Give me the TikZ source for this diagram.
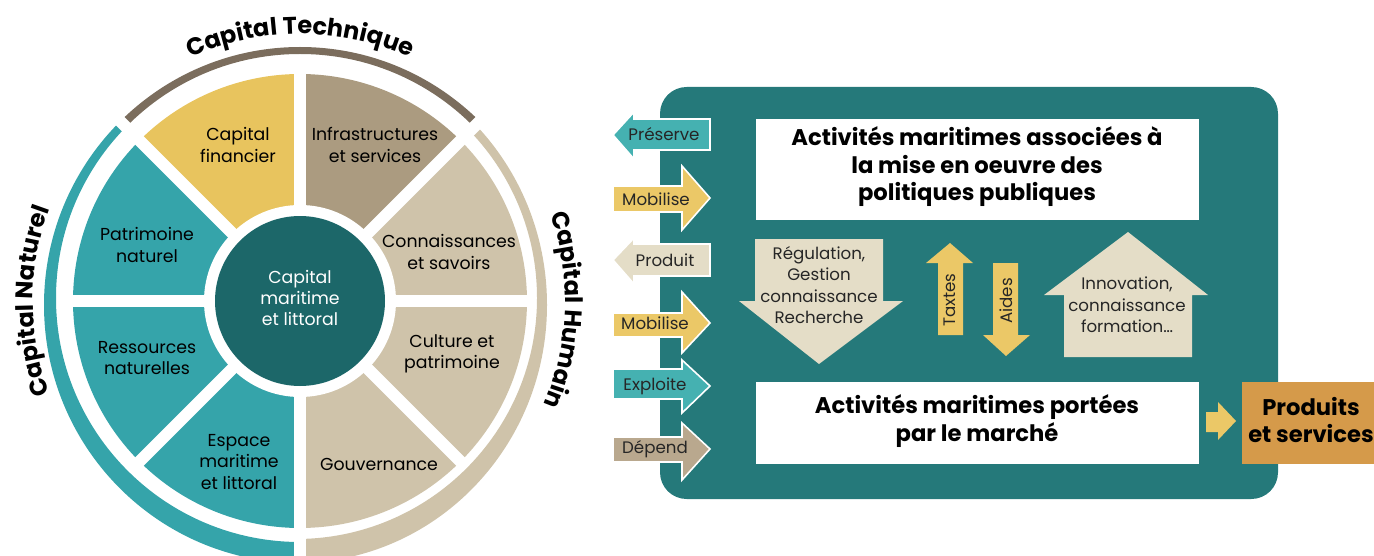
\documentclass[tikz,border=0pt]{standalone}
\usepackage{fontspec}
\setmainfont{Poppins}
\usepackage{xcolor}
\usetikzlibrary{decorations.text}

\definecolor{natteal}{RGB}{53,164,170}
\definecolor{coreteal}{RGB}{28,103,105}
\definecolor{boxteal}{RGB}{37,121,122}
\definecolor{gold}{RGB}{232,196,94}
\definecolor{infratan}{RGB}{171,155,128}
\definecolor{lighttan}{RGB}{207,195,170}
\definecolor{techbrown}{RGB}{123,109,93}
\definecolor{arrowteal}{RGB}{69,177,177}
\definecolor{palebeige}{RGB}{228,221,199}
\definecolor{arrowgold}{RGB}{235,200,103}
\definecolor{dependtan}{RGB}{185,168,142}
\definecolor{ochre}{RGB}{213,154,74}

\tikzset{
  sector/.style={align=center, inner sep=0pt, font=\fontsize{13}{16}\selectfont, text=black},
  gap/.style={white, line width=9pt},
  ringtext/.style={decorate, decoration={text along path, text align=center,
      text={|\bfseries\fontsize{18}{18}\selectfont|#1}}},
  sidearrow/.style={draw=white, line width=1.2pt},
  sidelabel/.style={inner sep=0pt, font=\fontsize{12.5}{14}\selectfont, text=black!85},
  midlabel/.style={align=center, inner sep=0pt, font=\fontsize{12.5}{16}\selectfont, text=black!85},
  activity/.style={align=center, inner sep=0pt, font=\bfseries\fontsize{17}{20.6}\selectfont},
}

\begin{document}
\begin{tikzpicture}[x=0.75pt,y=0.75pt,yscale=-1,xscale=1]
\useasboundingbox (0,0) rectangle (1374,556);

%Shape: Wheel
\begin{scope}[shift={(300,301)}, yscale=-1]
\fill[lighttan] (0,0) -- (0:227) arc[start angle=0, end angle=45, radius=227] -- cycle;
\fill[infratan] (0,0) -- (45:227) arc[start angle=45, end angle=90, radius=227] -- cycle;
\fill[gold] (0,0) -- (90:227) arc[start angle=90, end angle=135, radius=227] -- cycle;
\fill[natteal] (0,0) -- (135:227) arc[start angle=135, end angle=270, radius=227] -- cycle;
\fill[lighttan] (0,0) -- (270:227) arc[start angle=270, end angle=360, radius=227] -- cycle;
%Shape: Outer rings (thicker towards the bottom)
\begin{scope}
\clip (0,0) -- (45:300) arc[start angle=45, end angle=135, radius=300] -- cycle;
\fill[techbrown, even odd rule] (0,-4) ellipse[x radius=256, y radius=258] (0,3) circle[radius=244];
\end{scope}
\begin{scope}
\clip (0,0) -- (135:300) arc[start angle=135, end angle=270, radius=300] -- cycle;
\fill[natteal, even odd rule] (0,-4) ellipse[x radius=256, y radius=258] (0,3) circle[radius=244];
\end{scope}
\begin{scope}
\clip (0,0) -- (-90:300) arc[start angle=-90, end angle=45, radius=300] -- cycle;
\fill[lighttan, even odd rule] (-4,-4) ellipse[x radius=251, y radius=258] (-4,3) circle[radius=241];
\end{scope}
%Shape: White gaps
\foreach \a/\r in {0/232, 45/270, 90/232, 135/270, 180/232, 225/232, 270/270, 315/232}
  \draw[gap] (0,0) -- (\a:\r);
\fill[white] (0,0) circle[radius=96];
\fill[coreteal] (0,0) circle[radius=85];
% Ring labels
\path[ringtext=Capital Technique] (150:267) arc[start angle=150, end angle=30, radius=267];
\path[ringtext=Capital Naturel] (225:267) arc[start angle=225, end angle=135, radius=267];
\path[ringtext=Capital Humain] (43:265) arc[start angle=43, end angle=-47, radius=265];
\end{scope}

% Text Node
\node[sector] (financier) at (238,145) {Capital\\financier};
% Text Node
\node[sector] (infra) at (375,145) {Infrastructures\\et services};
% Text Node
\node[sector] (savoirs) at (449,252) {Connaissances\\et savoirs};
% Text Node
\node[sector] (culture) at (452,354) {Culture et\\patrimoine};
% Text Node
\node[sector] (gouv) at (379,464) {Gouvernance};
% Text Node
\node[sector] (espace) at (239,462) {Espace\\maritime\\et littoral};
% Text Node
\node[sector] (ressources) at (147,358) {Ressources\\naturelles};
% Text Node
\node[sector] (patrimoine) at (147,245) {Patrimoine\\naturel};
% Text Node
\node[sector, text=white] (core) at (300,298) {Capital\\maritime\\et littoral};

%Shape: Rounded Rectangle
\fill[boxteal, rounded corners=20pt] (660,87) rectangle (1278,499);
%Shape: Rectangle
\fill[white] (756,119) rectangle (1199,220);
%Shape: Rectangle
\fill[white] (756,382) rectangle (1199,464);
%Shape: Rectangle
\fill[ochre] (1242,382) rectangle (1374,464);

%Shape: Side arrows
\filldraw[sidearrow, fill=arrowteal] (613,135) -- (634,112) -- (634,119) -- (710,119) -- (710,150) -- (634,150) -- (634,159) -- cycle;
\filldraw[sidearrow, fill=arrowgold] (613,186) -- (682,186) -- (682,166) -- (710,198) -- (682,230) -- (682,212) -- (613,212) -- cycle;
\filldraw[sidearrow, fill=palebeige] (613,260) -- (634,238) -- (634,244) -- (710,244) -- (710,276) -- (634,276) -- (634,284) -- cycle;
\filldraw[sidearrow, fill=arrowgold] (613,313) -- (682,313) -- (682,292) -- (710,323) -- (682,353) -- (682,337) -- (613,337) -- cycle;
\filldraw[sidearrow, fill=arrowteal] (613,369) -- (682,369) -- (682,360) -- (710,386) -- (682,413) -- (682,399) -- (613,399) -- cycle;
\filldraw[sidearrow, fill=dependtan] (613,437) -- (682,437) -- (682,423) -- (710,449) -- (682,480) -- (682,462) -- (613,462) -- cycle;

% Text Node
\node[sidelabel] (preserve) at (664,134) {Préserve};
% Text Node
\node[sidelabel] (mobilise1) at (656,199) {Mobilise};
% Text Node
\node[sidelabel] (produit) at (665,260) {Produit};
% Text Node
\node[sidelabel] (mobilise2) at (655,323) {Mobilise};
% Text Node
\node[sidelabel] (exploite) at (655,386) {Exploite};
% Text Node
\node[sidelabel] (depend) at (655,449) {Dépend};

%Shape: Middle arrows
\fill[palebeige] (755,239) -- (883,239) -- (883,301) -- (903,301) -- (819,364) -- (739,301) -- (755,301) -- cycle;
\fill[arrowgold] (938,335) -- (938,263) -- (926,263) -- (950,243) -- (973,263) -- (963,263) -- (963,335) -- cycle;
\fill[arrowgold] (993,263) -- (1018,263) -- (1018,335) -- (1030,335) -- (1006,356) -- (983,335) -- (993,335) -- cycle;
\fill[palebeige] (1064,357) -- (1064,295) -- (1044,295) -- (1128,232) -- (1208,295) -- (1192,295) -- (1192,357) -- cycle;

% Text Node
\node[midlabel] (regulation) at (819,285) {Régulation,\\Gestion\\connaissance\\Recherche};
% Text Node
\node[midlabel, rotate=90] (taxes) at (950,300) {Taxtes};
% Text Node
\node[midlabel, rotate=90] (aides) at (1006,301) {Aides};
% Text Node
\node[midlabel] (innovation) at (1127,305) {Innovation,\\connaissance\\formation…};

%Shape: Arrow to products
\fill[arrowgold] (1206,412) -- (1218,412) -- (1218,402) -- (1236,421) -- (1218,440) -- (1218,432) -- (1206,432) -- cycle;

% Text Node
\node[activity] (publique) at (977,167) {Activités maritimes associées à\\la mise en oeuvre des\\politiques publiques};
% Text Node
\node[activity] (marche) at (977,421) {Activités maritimes portées\\par le marché};
% Text Node
\node[activity] (produits) at (1311,420) {Produits\\et services};

\end{tikzpicture}
\end{document}
